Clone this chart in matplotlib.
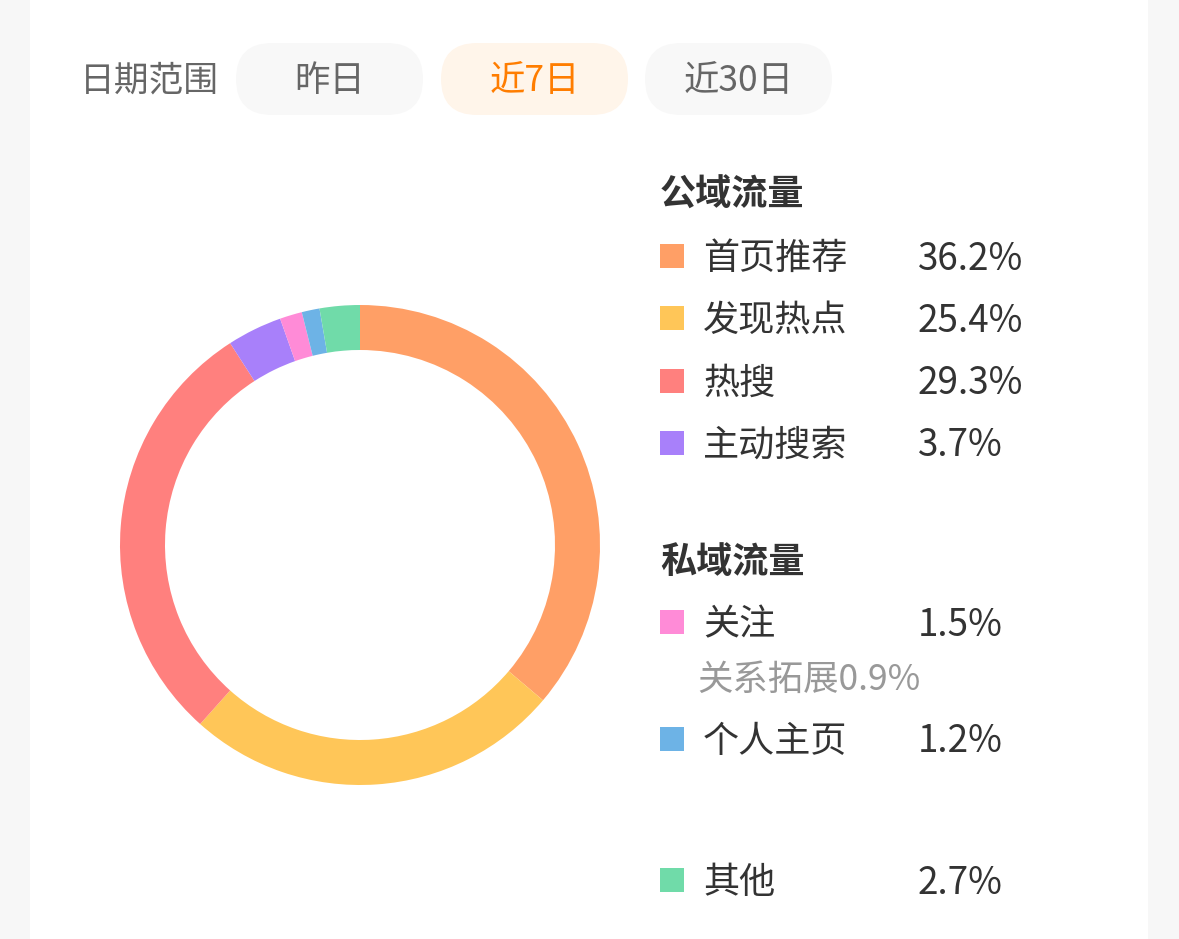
import matplotlib
matplotlib.use("Agg")
import matplotlib.pyplot as plt
from matplotlib.patches import FancyBboxPatch, Rectangle

plt.rcParams['font.family'] = ['Noto Sans CJK SC', 'DejaVu Sans']

# ---- data ----
date_label = "日期范围"
date_options = ["昨日", "近7日", "近30日"]
active_option = "近7日"

public_title = "公域流量"
private_title = "私域流量"
public_cats = ["首页推荐", "发现热点", "热搜", "主动搜索"]
public_vals = [36.2, 25.4, 29.3, 3.7]
private_cats = ["关注", "个人主页"]
private_vals = [1.5, 1.2]
sub_label = "关系拓展"
sub_val = 0.9
other_cat = "其他"
other_val = 2.7

colors = ["#ff9f66", "#ffc658", "#ff807e", "#a880fa", "#ff8bd7", "#6db3e6", "#70dba9"]

W, H = 1179, 939
DY = 3  # text baseline tweak
fig = plt.figure(figsize=(W / 100, H / 100), dpi=100)
fig.patch.set_facecolor("#f7f7f7")

bg = fig.add_axes([0, 0, 1, 1])
bg.set_xlim(0, W)
bg.set_ylim(H, 0)
bg.axis("off")
bg.add_patch(Rectangle((30, 0), 1118, H, facecolor="white", edgecolor="none"))

# header
bg.text(80, 78 + DY, date_label, fontsize=25, color="#666666", va="center", ha="left")
pill_x = [236, 441, 645]
pill_w = 187
for x, opt in zip(pill_x, date_options):
    active = opt == active_option
    bg.add_patch(FancyBboxPatch((x, 43), pill_w, 72,
                                boxstyle="round,pad=0,rounding_size=36",
                                facecolor="#fff5ea" if active else "#f8f8f8",
                                edgecolor="none"))
    bg.text(x + pill_w / 2, 78 + DY, opt, fontsize=25.5,
            color="#ff7d00" if active else "#666666", ha="center", va="center")

# donut
cx, cy, R = 360, 545, 240
ax = fig.add_axes([(cx - R) / W, 1 - (cy + R) / H, 2 * R / W, 2 * R / H])
vals = public_vals + private_vals + [other_val]
ax.pie(vals, colors=colors, startangle=90, counterclock=False,
       radius=1.0, wedgeprops=dict(width=45 / 240, edgecolor="none"))
ax.set_aspect("equal")
ax.set_xlim(-1, 1)
ax.set_ylim(-1, 1)
ax.axis("off")

# legend
def item(y, label, val, color):
    bg.add_patch(Rectangle((660, y - 12), 24, 24, facecolor=color, edgecolor="none"))
    bg.text(703, y + DY, label, fontsize=26, color="#333333", va="center", ha="left")
    bg.text(918, y + DY, f"{val}%", fontsize=26.5, color="#333333", va="center", ha="left")

bg.text(660, 192 + DY, public_title, fontsize=26, color="#333333", va="center",
        ha="left", fontweight="bold")
for y, c, v, col in zip([256, 318, 381, 443], public_cats, public_vals, colors[:4]):
    item(y, c, v, col)

bg.text(660, 559 + DY, private_title, fontsize=26, color="#333333", va="center",
        ha="left", fontweight="bold")
item(622, private_cats[0], private_vals[0], colors[4])
bg.text(697, 677 + DY, f"{sub_label}{sub_val}%", fontsize=25.5, color="#999999",
        va="center", ha="left")
item(739, private_cats[1], private_vals[1], colors[5])
item(880, other_cat, other_val, colors[6])

fig.savefig("out.png", dpi=100, facecolor=fig.get_facecolor())
